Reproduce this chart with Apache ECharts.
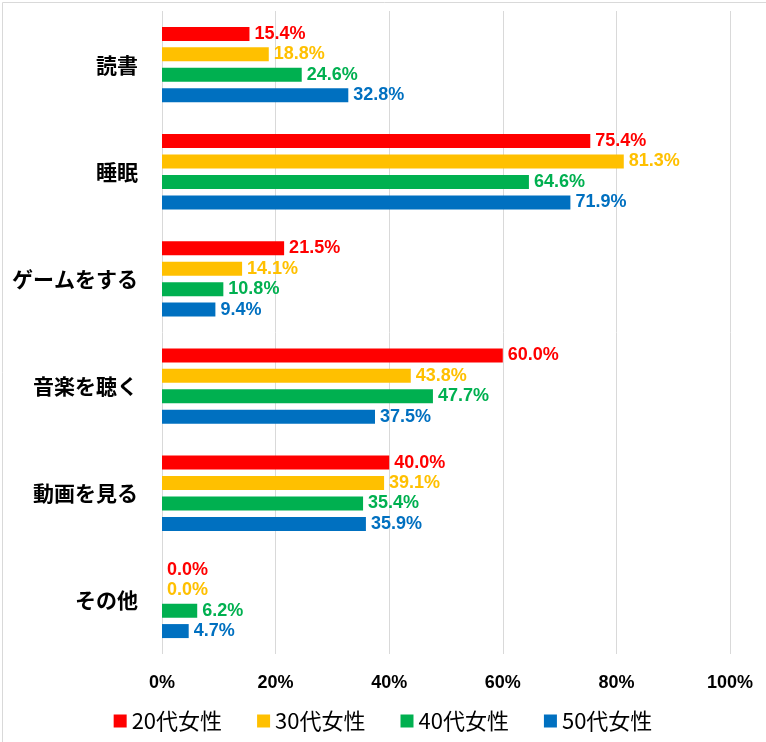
<!DOCTYPE html>
<html>
<head>
<meta charset="utf-8">
<script src="https://cdn.jsdelivr.net/npm/echarts@6/dist/echarts.min.js"></script>
<style>
  body { margin: 0; background: #fff; }
  #chart { width: 766px; height: 742px; }
</style>
</head>
<body>
<div id="chart"></div>
<script>
// カテゴリ（上から順）
var categories = ['読書', '睡眠', 'ゲームをする', '音楽を聴く', '動画を見る', 'その他'];
var seriesNames = ['20代女性', '30代女性', '40代女性', '50代女性'];
var colors = ['#ff0000', '#ffc000', '#00b050', '#0070c0'];

var data20 = [15.4, 75.4, 21.5, 60.0, 40.0, 0.0];
var data30 = [18.8, 81.3, 14.1, 43.8, 39.1, 0.0];
var data40 = [24.6, 64.6, 10.8, 47.7, 35.4, 6.2];
var data50 = [32.8, 71.9, 9.4, 37.5, 35.9, 4.7];

var xTicks = [0, 20, 40, 60, 80, 100];

var numFont = '"Liberation Sans", Arial, sans-serif';
var jpFont = '"Noto Sans CJK JP", sans-serif';

function makeSeries(name, data, color) {
	return {
		name: name,
		type: 'bar',
		data: data,
		barWidth: 14,
		barGap: '46%',
		itemStyle: { color: color },
		label: {
			show: true,
			position: 'right',
			distance: 5,
			color: color,
			fontFamily: numFont,
			fontWeight: 'bold',
			fontSize: 18,
			formatter: function (p) { return p.value.toFixed(1) + '%'; }
		}
	};
}

var myChart = echarts.init(document.getElementById('chart'));
var option = {
	animation: false,
	graphic: [{
		type: 'rect',
		left: 0, top: 0,
		shape: { x: 0.5, y: 0.5, width: 765, height: 741 },
		style: { fill: 'none', stroke: '#d9d9d9', lineWidth: 1 },
		silent: true
	}],
	grid: {
		left: 162,
		right: 36,
		top: 11,
		bottom: 88
	},
	legend: {
		data: seriesNames,
		top: 705,
		left: 'center',
		itemWidth: 13,
		itemHeight: 13,
		itemGap: 35,
		icon: 'rect',
		textStyle: {
			fontFamily: jpFont,
			fontSize: 22,
			color: '#000'
		}
	},
	xAxis: {
		type: 'value',
		min: 0,
		max: 100,
		interval: 20,
		axisLine: { show: false },
		axisTick: { show: false },
		splitLine: { lineStyle: { color: '#d9d9d9' } },
		axisLabel: {
			margin: 20,
			color: '#000',
			fontFamily: numFont,
			fontWeight: 'bold',
			fontSize: 18,
			formatter: function (v) { return xTicks.indexOf(v) >= 0 ? v + '%' : ''; }
		}
	},
	yAxis: {
		type: 'category',
		data: categories,
		inverse: true,
		axisLine: { show: false },
		axisTick: { show: false },
		axisLabel: {
			margin: 24,
			color: '#000',
			fontFamily: jpFont,
			fontWeight: 'bold',
			fontSize: 21
		}
	},
	series: [
		makeSeries(seriesNames[0], data20, colors[0]),
		makeSeries(seriesNames[1], data30, colors[1]),
		makeSeries(seriesNames[2], data40, colors[2]),
		makeSeries(seriesNames[3], data50, colors[3])
	]
};
myChart.setOption(option);
</script>
</body>
</html>
